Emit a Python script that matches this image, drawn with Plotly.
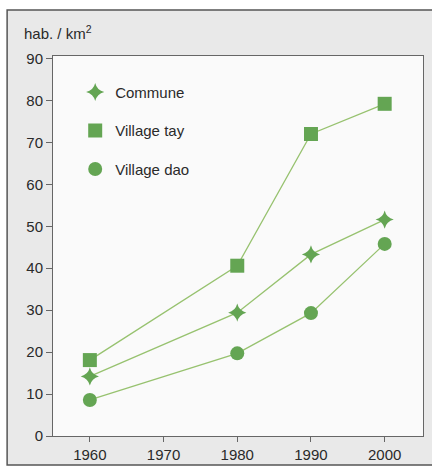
import plotly.graph_objects as go

years = [1960, 1980, 1990, 2000]
commune = [14.2, 29.4, 43.3, 51.6]
village_tay = [18.1, 40.6, 72.0, 79.2]
village_dao = [8.6, 19.7, 29.3, 45.8]
x_ticks = [1960, 1970, 1980, 1990, 2000]
y_ticks = [0, 10, 20, 30, 40, 50, 60, 70, 80, 90]

line_col = "#97c26f"
mark_col = "#64a553"
FONT = "Liberation Sans, Arial, sans-serif"
TXT = "#2a2a2a"

fig = go.Figure()
series = [
    ("Commune", commune, "star-diamond", 13),
    ("Village tay", village_tay, "square", 14),
    ("Village dao", village_dao, "circle", 14),
]
for i, (name, vals, sym, sz) in enumerate(series):
    fig.add_trace(go.Scatter(
        x=years, y=vals, mode="lines", showlegend=False, hoverinfo="skip",
        line=dict(color=line_col, width=1.3),
    ))
for i, (name, vals, sym, sz) in enumerate(series):
    fig.add_trace(go.Scatter(
        x=years, y=vals, name=name, mode="markers",
        legendgroup=str(i),
        marker=dict(symbol=sym, size=sz, color=mark_col, line=dict(width=0)),
    ))

fig.update_layout(
    width=432, height=475,
    margin=dict(l=53, r=9, t=56, b=39),
    paper_bgcolor="#e9e9e9",
    plot_bgcolor="#fafafa",
    font=dict(family=FONT, size=15, color=TXT),
    showlegend=True,
    legend=dict(x=0.06, y=0.948, xanchor="left", yanchor="top",
                bgcolor="rgba(0,0,0,0)", traceorder="grouped",
                tracegroupgap=16, font=dict(size=15, color=TXT)),
    xaxis=dict(range=[1955, 2005.2], tickvals=x_ticks, showgrid=False,
               zeroline=False, showline=True, linecolor="#666666", linewidth=1,
               mirror=True, ticks="outside", ticklen=5, tickcolor="#666666",
               tickfont=dict(size=15, color=TXT)),
    yaxis=dict(range=[0, 90.6], tickvals=y_ticks, showgrid=False,
               zeroline=False, showline=True, linecolor="#666666", linewidth=1,
               mirror=True, ticks="outside", ticklen=6, tickcolor="#666666",
               tickfont=dict(size=15, color=TXT)),
    shapes=[
        dict(type="rect", xref="paper", yref="paper", x0=-0.2, x1=1.1,
             y0=1.121, y1=1.2, fillcolor="white", line=dict(width=0), layer="below"),
        dict(type="rect", xref="paper", yref="paper", x0=-0.2, x1=-0.124,
             y0=-0.2, y1=1.2, fillcolor="white", line=dict(width=0), layer="below"),
        dict(type="rect", xref="paper", yref="paper", x0=-0.2, x1=1.1,
             y0=-0.2, y1=-0.0763, fillcolor="white", line=dict(width=0), layer="below"),
        dict(type="rect", xref="paper", yref="paper", x0=-0.124, x1=1.2,
             y0=-0.0763, y1=1.121, fillcolor="rgba(0,0,0,0)",
             line=dict(color="#555555", width=1.5), layer="below"),
    ],
    annotations=[
        dict(text="hab. / km<sup>2</sup>", xref="paper", yref="paper",
             x=-0.085, y=1.063, xanchor="left", yanchor="middle",
             showarrow=False, font=dict(size=15, color=TXT)),
    ],
)

fig.write_html("out.html", config={"displayModeBar": False},
               post_script="document.body.style.margin='0';document.body.style.padding='0';")
